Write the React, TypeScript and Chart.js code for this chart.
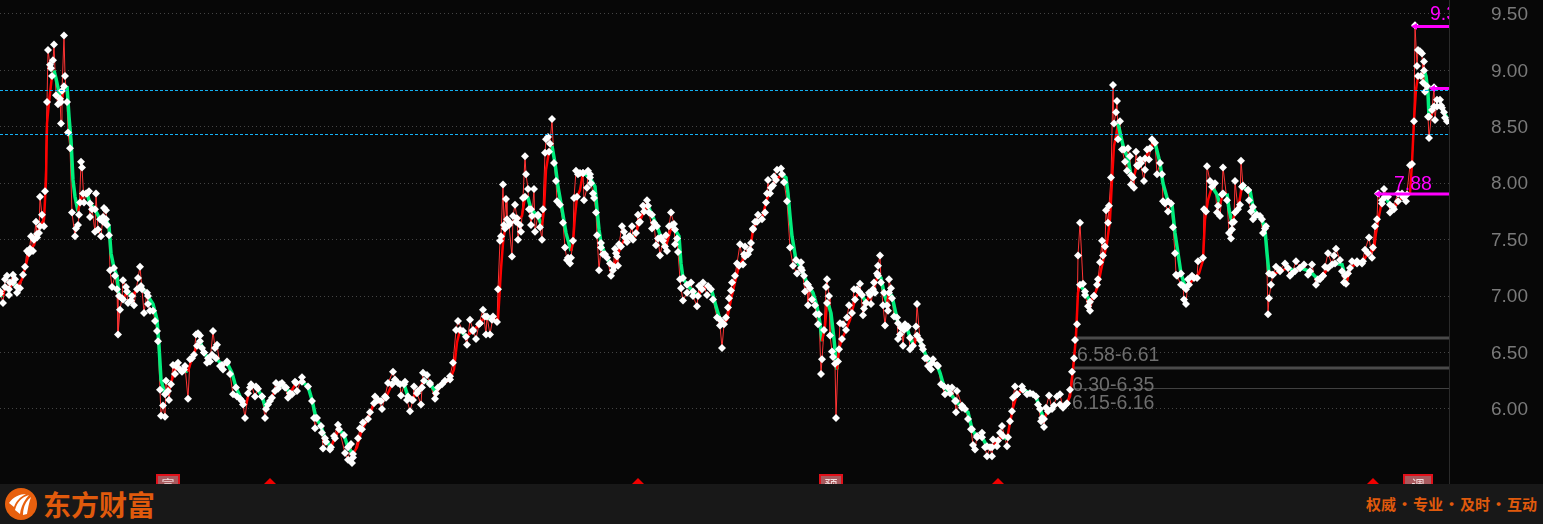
import React, { useEffect, useRef } from "react";
import { Chart, registerables } from "chart.js";

Chart.register(...registerables);

// bar number, price
const marksA = [[0,7.04],[3,6.94],[5,7.15],[7,7.18],[9,7.01],[10,7.12],[13,7.19],[15,7.15],[17,7.03],[20,7.07],[23,7.19],[25,7.26],[27,7.40],[29,7.38],[31,7.53],[33,7.40],[34,7.50],[36,7.66],[37,7.52],[39,7.56],[40,7.88],[42,7.72],[44,7.62],[45,7.93],[47,8.72],[48,9.18],[50,9.05],[51,9.02],[53,9.09],[54,9.23],[56,8.78],[58,8.70],[60,8.75],[61,8.53],[62,8.82],[64,9.31],[65,8.95],[67,8.72],[68,8.45],[70,8.31],[72,7.74],[75,7.53],[76,7.60],[78,7.63],[79,7.72],[81,8.19],[82,8.14],[84,7.83],[86,7.91],[89,7.93],[90,7.70],[92,7.77],[95,7.57],[96,7.91],[98,7.59],[101,7.53],[103,7.70],[104,7.78],[106,7.76],[107,7.63],[109,7.54],[110,7.23],[112,7.08],[115,7.18],[117,7.06],[118,6.66],[120,6.88],[122,6.98],[123,7.14],[126,7.08],[128,6.94],[131,6.96],[134,6.92],[138,7.16],[140,7.26],[142,7.06],[144,6.85],[147,7.03],[148,6.93],[150,6.87],[153,6.87],[155,6.78],[157,6.69],[158,6.60],[160,6.17],[161,5.94],[163,6.03],[165,5.93],[166,6.25],[169,6.08],[171,6.22],[173,6.39],[175,6.31],[178,6.41],[182,6.33],[185,6.38],[188,6.09],[190,6.44],[194,6.48],[196,6.66],[198,6.67],[200,6.65],[202,6.54],[204,6.50],[207,6.41],[210,6.42],[213,6.69],[215,6.54],[217,6.57],[220,6.38],[223,6.35],[227,6.42],[230,6.31],[233,6.13],[237,6.11],[240,6.09],[243,6.04],[245,5.92],[248,6.14],[251,6.22],[255,6.11],[258,6.18],[262,6.11],[265,5.92],[268,6.04],[272,6.10],[276,6.23],[278,6.18],[282,6.23],[285,6.19],[288,6.10]];
const marksB = [[292,6.13],[295,6.24],[297,6.16],[302,6.28],[308,6.20],[312,6.07],[314,5.92],[315,5.83],[317,5.92],[322,5.79],[323,5.65],[326,5.71],[330,5.64],[334,5.76],[338,5.86],[345,5.61],[348,5.55],[351,5.69],[352,5.52],[353,5.57],[358,5.74],[360,5.83],[363,5.88],[370,5.97],[375,6.11],[378,6.08],[382,6.00],[385,6.11],[388,6.23],[393,6.33],[395,6.26],[400,6.22],[401,6.12],[405,6.24],[407,6.08],[410,5.98],[413,6.08],[414,6.20],[417,6.14],[421,6.04],[422,6.19],[423,6.32],[427,6.30],[430,6.22],[435,6.09],[438,6.19],[445,6.25],[450,6.29],[453,6.41],[456,6.70],[458,6.78],[463,6.69],[467,6.57],[470,6.79],[473,6.70],[476,6.62],[479,6.75],[483,6.88],[486,6.66],[487,6.82],[490,6.66],[493,6.82],[497,6.77],[498,7.06],[500,7.49],[501,7.53],[503,7.99],[504,7.63],[506,7.86],[507,7.68],[509,7.63],[512,7.35],[513,7.71],[515,7.81],[517,7.69],[518,7.50],[520,7.63],[521,7.57],[523,7.87],[525,8.24],[526,8.08],[528,7.95],[529,7.77],[531,7.63],[532,7.71],[534,7.95],[535,7.57],[538,7.72],[540,7.61],[542,7.50],[543,7.77],[545,8.27],[546,8.39],[548,8.41],[550,8.35],[552,8.57],[554,8.18],[556,8.02],[557,7.84],[560,7.81],[563,7.65],[565,7.43],[567,7.32],[568,7.34],[570,7.29],[571,7.34],[573,7.49],[574,7.87],[576,8.11],[578,8.08]];
const marksC = [[580,8.09],[583,8.09],[584,7.85],[587,7.96],[588,8.11],[590,8.08],[591,8.00],[593,7.91],[594,7.87],[596,7.74],[597,7.54],[599,7.23],[601,7.43],[603,7.37],[607,7.34],[611,7.18],[613,7.23],[615,7.42],[616,7.38],[618,7.27],[619,7.46],[622,7.62],[624,7.57],[627,7.48],[629,7.53],[632,7.62],[633,7.50],[636,7.56],[638,7.72],[640,7.66],[643,7.80],[647,7.85],[649,7.74],[652,7.60],[654,7.65],[656,7.45],[658,7.51],[660,7.36],[663,7.49],[666,7.54],[667,7.40],[669,7.62],[671,7.74],[674,7.64],[675,7.46],[677,7.51],[678,7.39],[680,7.15],[681,7.07],[683,6.96],[687,7.03],[691,7.12],[693,7.00],[697,6.91],[699,7.09],[703,7.12],[707,7.01],[711,7.06],[713,6.97],[717,6.81],[720,6.74],[722,6.54],[724,6.75],[726,6.81],[728,6.90],[729,6.98],[731,7.05],[732,7.12],[735,7.18],[737,7.29],[740,7.46],[743,7.28],[744,7.37],[745,7.44],[748,7.37],[750,7.41],[751,7.47],[753,7.60],[755,7.66],[758,7.72],[762,7.68],[765,7.74],[767,7.91],[768,8.03],[770,7.91],[773,7.98],[774,8.06],[777,8.12],[781,8.13],[784,8.01],[787,7.84],[790,7.43],[793,7.27],[797,7.20],[801,7.30],[802,7.23],[805,7.04],[807,7.11],[808,6.92],[810,7.07],[812,6.97],[815,6.92],[816,6.84],[818,6.75],[819,6.84],[821,6.31],[822,6.44],[824,6.70],[826,7.08],[827,7.15],[829,7.00],[830,6.65],[832,6.51],[833,6.46],[835,6.40],[836,5.92],[838,6.42],[840,6.76],[843,6.75],[847,6.81],[849,6.92],[852,6.85],[854,7.06],[857,7.06],[860,7.11],[863,6.83],[864,6.89],[866,6.94],[869,7.03]];
const marksD = [[871,6.93],[874,7.12],[875,7.03],[877,7.20],[878,7.27],[880,7.36],[881,7.12],[883,6.92],[885,6.74],[887,6.92],[888,6.87],[889,7.15],[891,7.07],[892,6.98],[894,6.82],[897,6.81],[898,6.62],[900,6.66],[902,6.72],[903,6.56],[905,6.75],[908,6.73],[910,6.53],[913,6.56],[916,6.73],[917,6.93],[920,6.61],[923,6.53],[925,6.45],[928,6.38],[931,6.35],[933,6.44],[938,6.38],[941,6.22],[945,6.13],[948,6.19],[952,6.19],[955,6.07],[956,5.97],[957,6.16],[962,6.03],[965,6.00],[968,5.91],[971,5.82],[973,5.68],[975,5.64],[977,5.76],[982,5.79],[985,5.66],[987,5.58],[990,5.66],[992,5.58],[993,5.73],[997,5.67],[1000,5.79],[1002,5.85],[1007,5.67],[1008,5.75],[1010,5.89],[1012,5.98],[1013,6.10],[1015,6.20],[1017,6.13],[1022,6.20],[1027,6.13],[1033,6.13],[1038,6.04],[1041,5.89],[1042,5.92],[1044,5.84],[1046,6.01],[1049,6.12],[1052,6.00],[1057,6.11],[1060,6.13],[1063,6.01],[1067,6.05],[1070,6.17],[1072,6.33],[1074,6.45],[1075,6.61],[1077,6.75],[1078,7.36],[1080,7.65],[1083,7.11],[1085,7.01],[1088,6.91],[1090,6.87],[1094,7.00],[1097,7.10],[1098,7.15],[1100,7.30],[1102,7.49],[1103,7.36],[1105,7.44],[1106,7.76],[1108,7.65],[1109,7.80],[1111,8.05],[1113,8.87],[1114,8.53],[1116,8.63],[1117,8.73],[1118,8.39],[1120,8.55],[1122,8.30],[1125,8.19],[1127,8.11],[1128,8.31],[1130,8.24],[1131,7.99],[1133,8.05],[1134,7.96],[1136,8.28],[1138,8.15],[1140,8.21],[1144,8.02],[1145,8.12],[1147,8.30],[1149,8.21],[1152,8.39],[1155,8.36],[1157,8.08]];
const marksE = [[1160,8.18],[1162,8.08],[1163,7.84],[1165,7.82],[1168,7.75],[1171,7.82],[1173,7.61],[1175,7.38],[1176,7.19],[1177,7.18],[1181,7.10],[1183,7.09],[1184,6.97],[1186,6.93],[1188,7.15],[1192,7.18],[1197,7.16],[1198,7.31],[1203,7.34],[1204,7.77],[1206,7.75],[1207,8.15],[1210,8.02],[1215,8.00],[1217,7.74],[1218,7.80],[1220,7.71],[1222,7.90],[1223,8.14],[1227,7.85],[1229,7.56],[1231,7.51],[1232,7.59],[1234,7.66],[1235,8.02],[1238,7.77],[1240,7.81],[1241,8.20],[1243,7.98],[1248,7.94],[1249,7.85],[1251,7.75],[1253,7.68],[1255,7.71],[1260,7.71],[1263,7.56],[1265,7.60],[1266,7.62],[1268,6.84],[1269,6.98],[1271,7.10],[1273,7.19],[1276,7.26],[1280,7.23],[1285,7.29],[1290,7.18],[1292,7.20],[1296,7.31],[1300,7.25],[1304,7.28],[1308,7.19],[1312,7.28],[1316,7.10],[1320,7.15],[1323,7.18],[1325,7.26],[1328,7.38],[1332,7.28],[1334,7.36],[1336,7.42],[1340,7.32],[1342,7.22],[1344,7.12],[1346,7.11],[1348,7.20],[1352,7.31],[1357,7.31],[1362,7.29],[1365,7.41],[1369,7.52],[1372,7.34],[1373,7.43],[1375,7.62],[1377,7.68],[1378,7.91],[1382,7.82],[1384,7.95],[1388,7.88],[1390,7.74],[1393,7.79],[1398,7.91],[1402,7.91],[1406,7.84],[1410,8.16],[1412,8.17],[1414,8.55],[1415,9.40],[1417,9.04],[1418,9.18],[1420,9.17],[1422,9.15],[1423,8.89],[1424,9.08],[1425,8.81],[1427,8.86],[1428,8.59],[1429,8.40],[1432,8.65],[1434,8.85],[1435,8.56],[1437,8.74],[1440,8.74],[1442,8.67],[1445,8.58],[1447,8.55]];

const trendA = [[0,7.02],[3,7.0],[5,7.08],[9,7.06],[13,7.12],[17,7.08],[22,7.15],[26,7.28],[30,7.42],[34,7.45],[37,7.55],[40,7.62],[44,7.68],[46,8.03],[47,8.53],[49,8.72],[52,8.95],[54,9.0],[56,8.93],[61,8.72],[62,8.74],[64,8.86],[67,8.86],[69,8.59],[71,8.38],[73,8.03],[75,7.88],[78,7.75],[80,7.83],[83,7.91],[87,7.91],[90,7.82],[95,7.77],[100,7.68],[103,7.66],[106,7.68],[109,7.62],[111,7.38],[114,7.25],[117,7.18],[119,7.0],[123,6.97],[127,7.04],[132,7.0],[137,7.06],[141,7.09],[148,7.0],[153,6.93],[157,6.79],[159,6.56],[161,6.26],[165,6.13],[168,6.16],[172,6.26],[176,6.38],[180,6.35],[184,6.35],[188,6.33],[192,6.45],[197,6.56],[200,6.60],[204,6.50],[208,6.45],[212,6.48],[216,6.45],[222,6.39],[227,6.41],[232,6.32],[236,6.19],[242,6.07],[246,6.03],[250,6.19],[256,6.20],[262,6.11],[266,6.0],[270,6.07],[275,6.16],[280,6.22],[286,6.19]];
const trendB = [[290,6.14],[296,6.23],[302,6.24],[308,6.20],[312,6.08],[316,5.92],[321,5.85],[325,5.74],[331,5.66],[335,5.74],[339,5.82],[344,5.77],[348,5.66],[353,5.60],[357,5.66],[362,5.82],[368,5.91],[374,6.05],[381,6.07],[386,6.10],[392,6.22],[398,6.23],[404,6.22],[408,6.11],[412,6.08],[418,6.16],[424,6.25],[430,6.23],[436,6.14],[442,6.22],[450,6.26],[454,6.35],[457,6.59],[460,6.70],[466,6.64],[473,6.69],[480,6.76],[485,6.82],[492,6.79],[498,6.79],[499,6.94],[501,7.24],[503,7.47],[505,7.60],[510,7.65],[516,7.66],[522,7.71],[525,7.88],[528,7.87],[531,7.77],[538,7.71],[542,7.62],[544,7.77],[546,8.12],[549,8.28],[552,8.33],[555,8.18],[558,7.97],[562,7.77],[566,7.56],[571,7.40],[573,7.47],[575,7.71],[577,7.88],[580,7.94]];
const trendC = [[583,8.09],[590,8.05],[595,7.97],[597,7.77],[599,7.59],[601,7.47],[605,7.37],[610,7.29],[614,7.26],[617,7.35],[621,7.44],[625,7.52],[630,7.53],[635,7.52],[639,7.65],[644,7.75],[648,7.80],[652,7.72],[657,7.62],[661,7.52],[665,7.44],[668,7.50],[672,7.63],[675,7.59],[679,7.53],[681,7.29],[683,7.16],[687,7.10],[693,7.04],[698,7.0],[702,7.06],[708,7.09],[712,7.04],[716,6.91],[720,6.79],[723,6.76],[727,6.79],[731,6.97],[735,7.12],[739,7.27],[745,7.35],[750,7.40],[753,7.59],[757,7.66],[762,7.69],[766,7.83],[771,7.96],[776,8.03],[782,8.08],[786,8.05],[788,7.91],[790,7.71],[792,7.53],[796,7.32],[801,7.25],[804,7.18],[808,7.10],[813,7.03],[817,6.91],[820,6.76],[822,6.60],[825,6.73],[827,6.94],[829,6.91],[831,6.85],[834,6.62],[837,6.35],[839,6.53],[842,6.62],[846,6.70],[850,6.79],[855,6.97],[859,7.04],[862,7.01],[866,6.94],[870,7.01]];
const trendD = [[873,7.06],[878,7.18],[881,7.16],[884,7.03],[887,6.94],[889,7.03],[892,7.0],[895,6.88],[898,6.76],[901,6.72],[904,6.70],[907,6.72],[910,6.63],[914,6.56],[917,6.65],[922,6.56],[927,6.45],[932,6.41],[937,6.39],[940,6.32],[944,6.20],[950,6.14],[956,6.07],[962,6.01],[968,5.97],[972,5.82],[977,5.75],[982,5.75],[987,5.67],[992,5.66],[998,5.72],[1003,5.76],[1007,5.73],[1010,5.88],[1013,6.01],[1017,6.13],[1023,6.17],[1030,6.14],[1036,6.11],[1040,6.00],[1044,5.91],[1048,5.98],[1054,6.03],[1060,6.04],[1066,6.04],[1070,6.11],[1072,6.26],[1074,6.44],[1076,6.65],[1078,7.03],[1080,7.10],[1085,7.04],[1090,6.95],[1094,7.0],[1098,7.09],[1101,7.23],[1104,7.35],[1107,7.47],[1110,7.68],[1112,8.03],[1114,8.33],[1116,8.42],[1118,8.53],[1121,8.41],[1124,8.30],[1128,8.22],[1131,8.07],[1134,8.06],[1137,8.16],[1141,8.18],[1145,8.22],[1150,8.31],[1155,8.36]];
const trendE = [[1160,8.18],[1163,8.00],[1168,7.84],[1172,7.81],[1175,7.56],[1178,7.38],[1181,7.20],[1186,7.06],[1189,7.10],[1194,7.16],[1199,7.20],[1203,7.32],[1205,7.68],[1208,7.85],[1212,7.97],[1217,7.90],[1220,7.81],[1223,7.91],[1227,7.91],[1229,7.77],[1232,7.65],[1235,7.74],[1239,7.82],[1242,7.97],[1248,7.94],[1250,7.94],[1253,7.79],[1257,7.72],[1262,7.68],[1265,7.59],[1267,7.38],[1269,7.20],[1272,7.19],[1280,7.22],[1288,7.25],[1295,7.22],[1300,7.25],[1310,7.22],[1318,7.15],[1323,7.18],[1328,7.25],[1335,7.29],[1342,7.28],[1345,7.18],[1347,7.13],[1350,7.25],[1357,7.29],[1363,7.31],[1368,7.38],[1374,7.41],[1376,7.56],[1379,7.71],[1382,7.85],[1385,7.88],[1390,7.81],[1394,7.77],[1398,7.84],[1403,7.88],[1407,7.90],[1410,7.91],[1412,8.18],[1414,8.56],[1416,8.83],[1418,8.95],[1421,8.95],[1424,9.0],[1426,8.95],[1428,8.80],[1429,8.59],[1431,8.58],[1434,8.68],[1437,8.68],[1441,8.69],[1444,8.63],[1447,8.58]];

const tickValues = [6.0, 6.5, 7.0, 7.5, 8.0, 8.5, 9.0, 9.5];
const cyanLevels = [8.822, 8.432];
const grayLevels = [[1075, 6.628, 3], [1073, 6.363, 3], [1072, 6.181, 1]];
const rangeLabels = [["6.58-6.61", 1077, 6.477], ["6.30-6.35", 1072, 6.207], ["6.15-6.16", 1072, 6.047]];
const peakLevels = [[1415, 9.39], [1433, 8.84], [1378, 7.905]];
const peakLabels = [["9.39", 1430, 9.49], ["7.88", 1394, 7.985]];
const eventBars = [270, 638, 998, 1373];
const eventBoxes = [[168, "宣"], [831, "预"], [1418, "调"]];
const lastBar = 1449;

const RED = "#ff0000";
const GREEN = "#00ee7c";
const TEXT_FONT = '19.5px "Liberation Sans", Arial, sans-serif';

const overlayText = {
  id: "overlayText",
  afterDatasetsDraw(chart: any) {
    const { ctx, scales, chartArea } = chart;
    const x = scales.x;
    const y = scales.y;
    ctx.save();
    ctx.beginPath();
    ctx.rect(chartArea.left, chartArea.top, chartArea.width, chartArea.height);
    ctx.clip();
    ctx.textBaseline = "middle";
    ctx.textAlign = "left";
    ctx.font = TEXT_FONT;
    ctx.fillStyle = "#6e6e6e";
    for (const [t, b, p] of rangeLabels) ctx.fillText(t, x.getPixelForValue(b), y.getPixelForValue(p));
    ctx.fillStyle = "#ff00ff";
    for (const [t, b, p] of peakLabels) ctx.fillText(t, x.getPixelForValue(b), y.getPixelForValue(p));
    for (const [b, t] of eventBoxes) {
      const cx = x.getPixelForValue(b);
      const w = t === "调" ? 28 : 22;
      ctx.fillStyle = "#a85a5e";
      ctx.fillRect(cx - w / 2, 474, w, 14);
      ctx.strokeStyle = "#e0101a";
      ctx.lineWidth = 2;
      ctx.strokeRect(cx - w / 2, 475, w, 14);
      ctx.fillStyle = "#f2dcdc";
      ctx.font = '13px "Noto Sans CJK SC"';
      ctx.textAlign = "center";
      ctx.fillText(t, cx, 484);
      ctx.textAlign = "left";
    }
    ctx.restore();
  },
};

const toPts = (rows: any[]) => rows.map((r) => ({ x: r[0], y: r[1] }));
const Dot = () => <span style={{ display: "inline-block", width: 17, textAlign: "center" }}>·</span>;

export default function App() {
  const ref = useRef<HTMLCanvasElement | null>(null);
  useEffect(() => {
    document.body.style.margin = "0";
    document.body.style.background = "#070707";
    const marks = toPts([...marksA, ...marksB, ...marksC, ...marksD, ...marksE]);
    const trend = toPts([...trendA, ...trendB, ...trendC, ...trendD, ...trendE]);
    const flatRadius = (c: any) => {
      const a = trend[c.dataIndex];
      const b = trend[c.dataIndex + 1];
      if (!a || !b) return 0;
      return Math.abs(b.y - a.y) / (b.x - a.x) < 0.03 ? 4 : 0;
    };
    const chart = new Chart(ref.current as any, {
      type: "line",
      data: {
        datasets: [
          ...grayLevels.map((g) => ({
            data: [{ x: g[0], y: g[1] }, { x: lastBar, y: g[1] }],
            borderColor: g[2] > 1 ? "#4a4a4a" : "#444444",
            borderWidth: g[2],
            pointRadius: 0,
            order: 6,
          })),
          {
            data: marks,
            borderColor: "#ff3434",
            borderWidth: 1,
            pointRadius: 0,
            order: 5,
          },
          {
            data: trend,
            borderColor: RED,
            borderWidth: 2,
            pointRadius: 0,
            order: 4,
            segment: {
              borderColor: (c: any) => (c.p1.parsed.y < c.p0.parsed.y ? GREEN : RED),
              borderWidth: (c: any) => (c.p1.parsed.y < c.p0.parsed.y ? 3.5 : 2.5),
            },
          },
          {
            data: trend,
            showLine: false,
            pointStyle: "rectRot",
            pointRadius: flatRadius,
            pointBackgroundColor: "#ffffff",
            pointBorderWidth: 0,
            order: 3,
          },
          {
            data: marks,
            showLine: false,
            pointStyle: "rectRot",
            pointRadius: 4,
            pointBackgroundColor: "#ffffff",
            pointBorderWidth: 0,
            order: 3,
          },
          ...cyanLevels.map((v) => ({
            data: [{ x: 0, y: v }, { x: lastBar, y: v }],
            borderColor: "#14b2f5",
            borderWidth: 1,
            borderDash: [3, 2],
            pointRadius: 0,
            order: 2,
          })),
          ...peakLevels.map((p) => ({
            data: [{ x: p[0], y: p[1] }, { x: lastBar, y: p[1] }],
            borderColor: "#ff00ff",
            borderWidth: 3,
            pointStyle: "triangle",
            pointRotation: -90,
            pointRadius: [4, 0],
            pointBackgroundColor: "#ff00ff",
            pointBorderWidth: 0,
            order: 1,
          })),
          {
            data: eventBars.map((b) => ({ x: b, y: 5.335 })),
            showLine: false,
            pointStyle: "rectRot",
            pointRadius: 6,
            pointBackgroundColor: "#f00000",
            pointBorderWidth: 0,
            order: 1,
          },
        ] as any,
      },
      options: {
        animation: false,
        responsive: false,
        devicePixelRatio: 1,
        layout: { padding: 0, autoPadding: false },
        plugins: { legend: { display: false }, tooltip: { enabled: false } },
        elements: { line: { tension: 0 } },
        scales: {
          x: { type: "linear", min: 0, max: lastBar, display: false },
          y: {
            type: "linear",
            position: "right",
            min: 5.335,
            max: 9.624,
            afterFit: (s: any) => {
              s.width = 94;
              s.paddingTop = 0;
              s.paddingBottom = 0;
            },
            afterBuildTicks: (s: any) => {
              s.ticks = tickValues.map((v) => ({ value: v }));
            },
            border: { color: "#2a2a2a", dash: [1, 3] },
            grid: { color: "#444444", lineWidth: 1, drawTicks: false },
            ticks: {
              padding: 42,
              labelOffset: 1,
              color: "#7a7a7a",
              font: { family: '"Liberation Sans", Arial, sans-serif', size: 19 },
              callback: (v: any) => Number(v).toFixed(2),
            },
          },
        },
      } as any,
      plugins: [overlayText],
    });
    return () => chart.destroy();
  }, []);

  return (
    <div style={{ position: "fixed", left: 0, top: 0, width: 1543, height: 524, background: "#070707", overflow: "hidden" }}>
      <canvas ref={ref} width={1543} height={484} style={{ display: "block", width: 1543, height: 484 }} />
      <div style={{ position: "absolute", left: 0, top: 484, width: 1543, height: 40, background: "#181818", color: "#e05a0c", fontFamily: '"Noto Sans CJK SC", sans-serif', fontWeight: 700 }}>
        <svg width="32" height="32" viewBox="0 0 32 32" style={{ position: "absolute", left: 5, top: 4 }}>
          <circle cx="16" cy="16" r="16" fill="#e8600e" />
          <path d="M4 15 C8 9 15 6 21 6 C15 9 11 13 9 19 Z" fill="#fff" />
          <path d="M10 22 C12 14 17 9 24 7 C19 13 16 18 15 26 Z" fill="#fff" />
          <path d="M18 27 C18 19 21 13 26 9 C24 15 23 20 22 26 Z" fill="#fff" />
        </svg>
        <div style={{ position: "absolute", left: 43, top: 0, lineHeight: "40px", fontSize: 28 }}>东方财富</div>
        <div style={{ position: "absolute", left: 1366, top: 0, lineHeight: "40px", fontSize: 15, whiteSpace: "nowrap" }}>权威<Dot />专业<Dot />及时<Dot />互动</div>
      </div>
    </div>
  );
}
